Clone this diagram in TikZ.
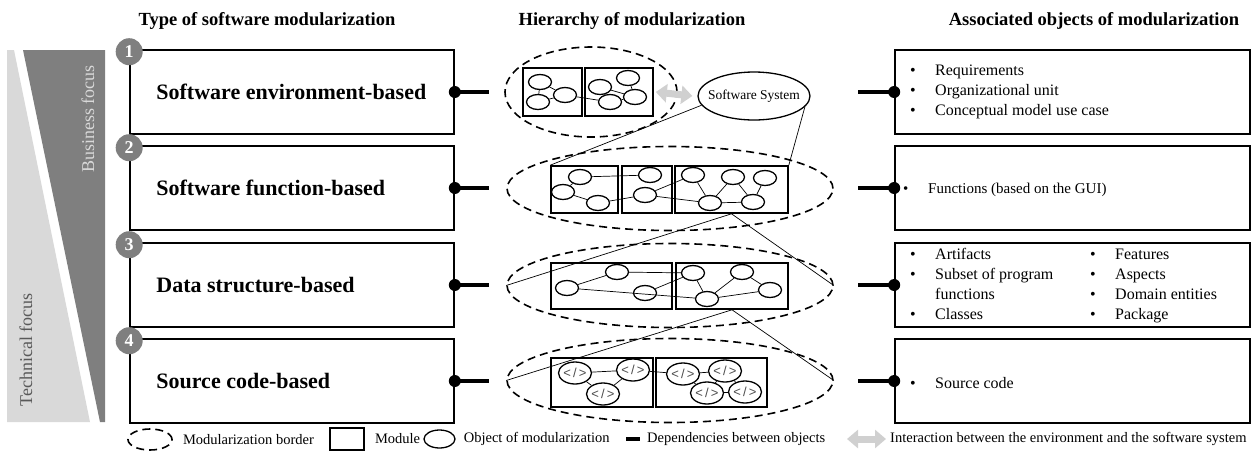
\documentclass[tikz,border=0pt]{standalone}
\usepackage{fontspec}
\setmainfont{Liberation Serif}
\newfontfamily\codefont{Liberation Sans}
\usetikzlibrary{shapes.geometric,arrows.meta,positioning}
\definecolor{darkband}{HTML}{7F7F7F}
\definecolor{lightband}{HTML}{D9D9D9}
\definecolor{arrowgray}{HTML}{D0D0D0}
\newcommand{\itm}[1]{\makebox[25pt][l]{\textbullet}#1}

\begin{document}
\begin{tikzpicture}[x=1pt, y=-1pt,
        typebox/.style={rectangle, draw, line width=1.6pt, minimum width=324pt, minimum height=84pt},
        objbox/.style={rectangle, draw, line width=1.6pt, minimum width=355pt, minimum height=84pt},
        typetext/.style={anchor=west, inner sep=0pt, font=\fontsize{22}{26}\selectfont\bfseries},
        listtext/.style={anchor=west, align=left, inner sep=0pt, font=\fontsize{16}{20}\selectfont},
        coltitle/.style={font=\fontsize{18.5}{22}\selectfont\bfseries},
        numdot/.style={circle, fill=darkband, text=white, minimum size=27pt, inner sep=0pt, font=\fontsize{18}{20}\selectfont\bfseries},
        joint/.style={circle, fill, minimum size=12pt, inner sep=0pt},
        link/.style={line width=4pt},
        modborder/.style={ellipse, draw, dash pattern=on 8pt off 5pt, line width=1.6pt, inner sep=0pt},
        module/.style={rectangle, draw, line width=1.6pt, inner sep=0pt},
        obj/.style={ellipse, draw, line width=1.3pt, minimum width=23pt, minimum height=15pt, inner sep=0pt},
        code/.style={ellipse, draw, line width=1.3pt, minimum width=33pt, minimum height=22pt, inner sep=0pt,
                     label={[font=\codefont\fontsize{13}{14}\selectfont, text=black!70]center:<\,/\,>}},
        dep/.style={line width=0.7pt},
        zoomline/.style={line width=0.7pt},
        interact/.style={line width=7pt, arrowgray, {Triangle[length=11pt,width=18pt]}-{Triangle[length=11pt,width=18pt]}},
        legtext/.style={anchor=west, inner sep=0pt, font=\fontsize{14.5}{16}\selectfont}
    ]
        \useasboundingbox (0,0) rectangle (1254,456);

        % focus bands
        \fill[lightband] (7,50) -- (14,50) -- (90,422) -- (7,422) -- cycle;
        \fill[darkband] (23,50) -- (105,50) -- (105,422) -- (100,422) -- cycle;
        \node[rotate=90, text=lightband, font=\fontsize{18}{20}\selectfont] (bus) at (88,119) {Business focus};
        \node[rotate=90, text=black!65, font=\fontsize{18}{20}\selectfont] (tech) at (26,350) {Technical focus};

        % column titles
        \node[coltitle] (h1) at (267,21) {Type of software modularization};
        \node[coltitle] (h2) at (632,21) {Hierarchy of modularization};
        \node[coltitle] (h3) at (1094,21) {Associated objects of modularization};

        % rows
        \foreach \i/\y/\lab in {1/92/Software environment-based, 2/188/Software function-based,
                                3/285/Data structure-based, 4/381/Source code-based} {
            \node[typebox] (t\i) at (292,\y) {};
            \node[typetext] at ([xshift=27pt]t\i.west) {\lab};
            \node[numdot] (n\i) at ([yshift=-2.5pt]t\i.north west) {\i};
            \node[objbox] (a\i) at (1072.5,\y) {};
            \node[joint] (jl\i) at (t\i.east) {};
            \coordinate (cl\i) at ([xshift=34pt]t\i.east);
            \draw[link] (jl\i.center) -- (cl\i);
            \node[joint] (jr\i) at (a\i.west) {};
            \coordinate (cr\i) at ([xshift=-36pt]a\i.west);
            \draw[link] (cr\i) -- (jr\i.center);
        }

        % associated objects
        \node[listtext] (r1) at (910,92) {\itm{Requirements}\\\itm{Organizational unit}\\\itm{Conceptual model use case}};
        \node[listtext, font=\fontsize{15}{18}\selectfont] (r2) at (903,190) {\itm{Functions (based on the GUI)}};
        \node[listtext] (r3a) at (910,285) {\itm{Artifacts}\strut\\\itm{Subset of program}\\\hspace*{25pt}functions\\\itm{Classes}\strut};
        \node[listtext] (r3b) at (1090,285) {\itm{Features}\strut\\\itm{Aspects}\\\itm{Domain entities}\\\itm{Package}\strut};
        \node[listtext] (r4) at (910,383) {\itm{Source code}};

        % hierarchy: borders
        \node[modborder, minimum width=172pt, minimum height=90pt] (e1) at (591,92) {};
        \node[modborder, minimum width=326pt, minimum height=84pt] (e2) at (670,188.5) {};
        \node[modborder, minimum width=326pt, minimum height=84pt] (e3) at (670,285.5) {};
        \node[modborder, minimum width=326pt, minimum height=84pt] (e4) at (670,380.5) {};

        % hierarchy: modules
        \node[module, minimum width=59pt, minimum height=48pt] (m11) at (552.5,92) {};
        \node[module, minimum width=68pt, minimum height=48pt] (m12) at (619,92) {};
        \node[module, minimum width=67pt, minimum height=47pt] (m21) at (584.5,189.5) {};
        \node[module, minimum width=50pt, minimum height=47pt] (m22) at (647,189.5) {};
        \node[module, minimum width=113pt, minimum height=47pt] (m23) at (731.5,189.5) {};
        \node[module, minimum width=121pt, minimum height=46pt] (m31) at (611.5,286) {};
        \node[module, minimum width=112pt, minimum height=46pt] (m32) at (732,286) {};
        \node[module, minimum width=102pt, minimum height=49pt] (m41) at (602,382.5) {};
        \node[module, minimum width=111pt, minimum height=49pt] (m42) at (711.5,382.5) {};

        % level 1 objects
        \node[obj] (o1) at (540,82) {};
        \node[obj] (o2) at (538,102) {};
        \node[obj] (o3) at (565,95) {};
        \node[obj] (o4) at (600,87) {};
        \node[obj] (o5) at (628,78) {};
        \node[obj] (o6) at (635,97) {};
        \node[obj] (o7) at (610,102) {};
        \draw[dep] (o1) -- (o2);
        \draw[dep] (o1) -- (o3);
        \draw[dep] (o2) -- (o3);
        \draw[dep] (o3) -- (o7);
        \draw[dep] (o4) -- (o7);
        \draw[dep] (o4) -- (o6);
        \draw[dep] (o5) -- (o6);
        \draw[dep] (o7) -- (o6);

        \node[ellipse, draw, line width=1.3pt, minimum width=112pt, minimum height=48pt, inner sep=0pt,
              label={[font=\fontsize{13.5}{15}\selectfont]center:Software System}] (ss) at (754,96) {};
        \draw[interact] ([xshift=2pt]m12.east) -- ([xshift=-5pt]ss.west);

        % level 2 objects
        \node[obj] (p1) at (580,177) {};
        \node[obj] (p2) at (563,192) {};
        \node[obj] (p3) at (598,203) {};
        \node[obj] (p4) at (650,175) {};
        \node[obj] (p5) at (645,195) {};
        \node[obj] (p6) at (693,175) {};
        \node[obj] (p7) at (733,177) {};
        \node[obj] (p8) at (765,178) {};
        \node[obj] (p9) at (710,203) {};
        \node[obj] (p10) at (753,202) {};
        \draw[dep] (p1) -- (p4);
        \draw[dep] (p1) -- (p2);
        \draw[dep] (p2) -- (p3);
        \draw[dep] (p3) -- (p5);
        \draw[dep] (p5) -- (p6);
        \draw[dep] (p5) -- (p9);
        \draw[dep] (p6) -- (p9);
        \draw[dep] (p9) -- (p7);
        \draw[dep] (p9) -- (p10);
        \draw[dep] (p7) -- (p10);
        \draw[dep] (p8) -- (p10);

        % level 3 objects
        \node[obj] (q1) at (617,272) {};
        \node[obj] (q2) at (567,288) {};
        \node[obj] (q3) at (645,293) {};
        \node[obj] (q4) at (693,273) {};
        \node[obj] (q5) at (742,272) {};
        \node[obj] (q6) at (770,290) {};
        \node[obj] (q7) at (707,299) {};
        \draw[dep] (q2) -- (q1);
        \draw[dep] (q1) -- (q4);
        \draw[dep] (q2) -- (q7);
        \draw[dep] (q3) -- (q4);
        \draw[dep] (q4) -- (q7);
        \draw[dep] (q7) -- (q5);
        \draw[dep] (q5) -- (q6);
        \draw[dep] (q7) -- (q6);

        % level 4 objects
        \node[code] (c1) at (575,373) {};
        \node[code] (c2) at (633,370) {};
        \node[code] (c3) at (603,394) {};
        \node[code] (c4) at (683,374) {};
        \node[code] (c5) at (725,371) {};
        \node[code] (c6) at (707,393) {};
        \node[code] (c7) at (745,392) {};
        \draw[dep] (c1) -- (c2);
        \draw[dep] (c1) -- (c3);
        \draw[dep] (c3) -- (c2);
        \draw[dep] (c2) -- (c4);
        \draw[dep] (c4) -- (c5);
        \draw[dep] (c4) -- (c6);
        \draw[dep] (c5) -- (c6);
        \draw[dep] (c5) -- (c7);
        \draw[dep] (c6) -- (c7);

        % zoom lines between levels
        \draw[zoomline] (ss.190) -- (m21.north west);
        \draw[zoomline] (ss.-12) -- (m23.north east);
        \draw[zoomline] (m23.south) -- (e3.west);
        \draw[zoomline] (m23.south) -- (e3.east);
        \draw[zoomline] (m32.south) -- (e4.west);
        \draw[zoomline] (m32.south) -- (e4.east);

        % legend
        \node[modborder, minimum width=44pt, minimum height=21pt] (lg1) at (150,439.5) {};
        \node[legtext, right=10pt of lg1] (lt1) {Modularization border};
        \node[module, minimum width=34pt, minimum height=22pt] (lg2) at (347,439) {};
        \node[legtext, right=10pt of lg2] (lt2) {Module};
        \node[obj, minimum width=31pt, minimum height=18pt] (lg3) at (439.5,439) {};
        \node[legtext, right=8pt of lg3] (lt3) {Object of modularization};
        \coordinate (lg4a) at (626,439);
        \coordinate (lg4b) at (640,439);
        \draw[link] (lg4a) -- (lg4b);
        \node[legtext, right=7pt of lg4b] (lt4) {Dependencies between objects};
        \coordinate (lg5a) at (847,439);
        \coordinate (lg5b) at (886,439);
        \draw[interact] (lg5a) -- (lg5b);
        \node[legtext, right=4pt of lg5b] (lt5) {Interaction between the environment and the software system};
    \end{tikzpicture}
\end{document}
